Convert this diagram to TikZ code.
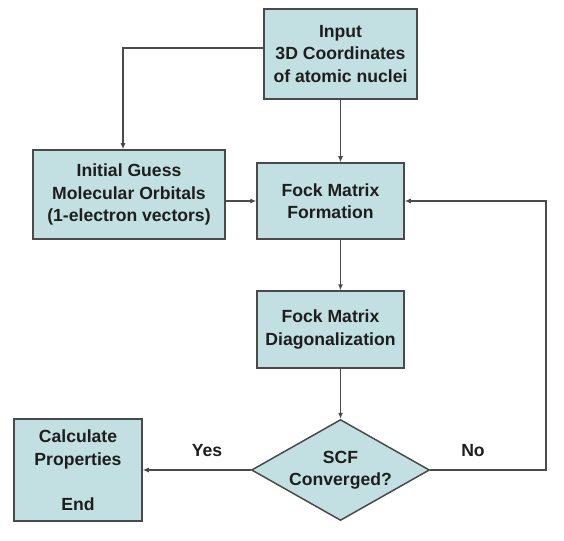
\documentclass[tikz,border=0pt]{standalone}
\usepackage{fontspec}
\setmainfont{Liberation Sans}
\usetikzlibrary{shapes.geometric,arrows.meta}
\definecolor{boxfill}{HTML}{C2E0E2}
\definecolor{edge}{HTML}{4A4A4A}
\definecolor{ink}{HTML}{1E1E1E}
\begin{document}
\begin{tikzpicture}[x=1pt,y=-1pt,
  every node/.style={font=\fontsize{17.6}{22.5}\selectfont\bfseries, text=ink},
  boxnode/.style={draw=edge, line width=1.5pt, fill=boxfill, align=center, inner sep=0pt},
  decnode/.style={shape=diamond, aspect=1.76, draw=edge, line width=1.5pt, fill=boxfill, align=center, inner sep=0pt, minimum width=178pt, minimum height=101pt},
  arr/.style={draw=edge, line width=1.1pt, -{Latex[length=6pt,width=5pt]}},
  lbl/.style={inner sep=0pt}]
\useasboundingbox (0,0) rectangle (564,540);
\node[boxnode, minimum width=153pt, minimum height=90pt] (input) at (340.5,54) {Input\\3D Coordinates\\of atomic nuclei};
\node[boxnode, minimum width=192pt, minimum height=89pt] (init) at (129,194.5) {Initial Guess\\Molecular Orbitals\\(1-electron vectors)};
\node[boxnode, minimum width=147pt, minimum height=76pt] (form) at (330.5,201) {Fock Matrix\\Formation};
\node[boxnode, minimum width=147pt, minimum height=77pt] (diag) at (330.5,329.5) {Fock Matrix\\Diagonalization};
\node[decnode] (dec) at (340.5,470) {SCF\\Converged?};
\node[boxnode, minimum width=128pt, minimum height=102pt] (calc) at (78,470) {Calculate\\Properties\\[22.5pt]End};
\node[lbl] (yes) at (207,451) {Yes};
\node[lbl] (no) at (473,451) {No};
\coordinate (fb) at (546,470);
\draw[arr] ([yshift=6pt]input.west) -| ([xshift=-6pt]init.north);
\draw[arr] (input.south) -- (input.south |- form.north);
\draw[arr] (init.east |- form.west) -- (form.west);
\draw[arr] (form.south -| input.south) -- (diag.north -| input.south);
\draw[arr] (diag.south -| dec.north) -- (dec.north);
\draw[arr] (dec.west) -- (calc.east);
\draw[arr] (dec.east) -- (fb) |- (form.east);
\end{tikzpicture}
\end{document}
